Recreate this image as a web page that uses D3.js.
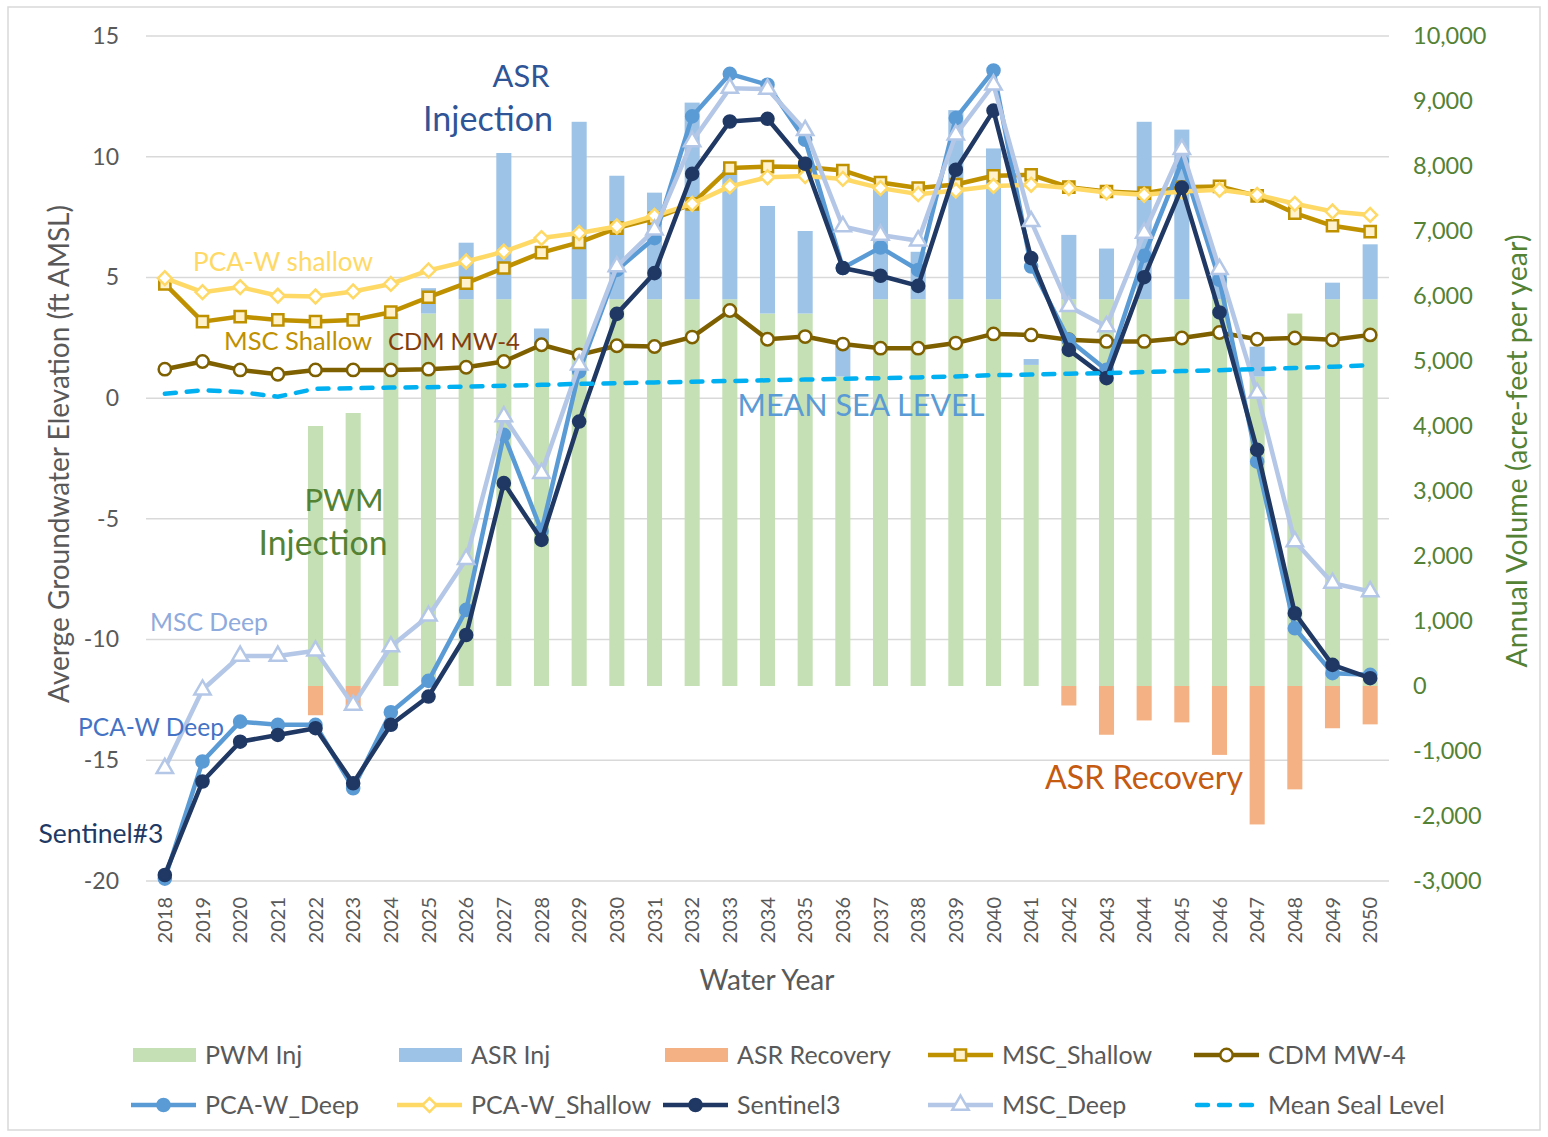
<!DOCTYPE html>
<html><head><meta charset="utf-8">
<script src="https://cdn.jsdelivr.net/npm/d3@7"></script>
<style>
body{margin:0;background:#fff}
text{font-family:Lato,'Open Sans',sans-serif}
</style>
</head><body>
<svg id="chart" width="1548" height="1137"></svg>
<script>
// ---------------- DATA ----------------
const years = [2018,2019,2020,2021,2022,2023,2024,2025,2026,2027,2028,2029,2030,2031,2032,2033,2034,2035,2036,2037,2038,2039,2040,2041,2042,2043,2044,2045,2046,2047,2048,2049,2050];

// bars (acre-feet per year, right axis)
const pwmInj      = [0,0,0,0,4000,4200,5730,5730,5950,5950,5200,5950,5950,5950,5950,5950,5730,5730,4760,5950,5950,5950,5950,4940,5950,5950,5950,5950,5950,4760,5730,5950,5950];
const asrInj      = [0,0,0,0,0,0,0,390,870,2250,300,2730,1900,1640,3025,1990,1655,1270,490,1700,730,2910,2320,90,990,780,2730,2610,380,460,0,255,845];
const asrRecovery = [0,0,0,0,-450,-350,0,0,0,0,0,0,0,0,0,0,0,0,0,0,0,0,0,0,-300,-750,-530,-560,-1060,-2130,-1590,-650,-590];

// lines (ft AMSL, left axis)
const mscShallow  = [4.73,3.17,3.38,3.24,3.17,3.24,3.56,4.18,4.76,5.39,6.03,6.45,7.04,7.45,8.05,9.53,9.59,9.57,9.43,8.93,8.70,8.85,9.21,9.25,8.74,8.56,8.49,8.74,8.77,8.38,7.66,7.14,6.90];
const cdmMW4      = [1.20,1.52,1.17,0.99,1.17,1.17,1.17,1.20,1.28,1.52,2.21,1.79,2.17,2.14,2.53,3.63,2.44,2.55,2.24,2.07,2.07,2.28,2.66,2.62,2.42,2.35,2.35,2.49,2.72,2.44,2.49,2.42,2.62];
const pcaWDeep    = [-19.9,-15.05,-13.40,-13.53,-13.53,-16.16,-13.01,-11.71,-8.77,-1.52,-5.5,1.1,5.31,6.63,11.67,13.43,12.98,10.7,5.39,6.24,5.31,11.6,13.57,5.45,2.42,1.17,5.9,9.8,4.9,-2.63,-9.53,-11.39,-11.46];
const pcaWShallow = [4.97,4.39,4.60,4.24,4.21,4.42,4.73,5.29,5.66,6.07,6.63,6.84,7.11,7.55,8.05,8.77,9.15,9.2,9.08,8.70,8.45,8.60,8.79,8.84,8.70,8.52,8.42,8.56,8.63,8.42,8.05,7.73,7.59];
const sentinel3   = [-19.75,-15.88,-14.23,-13.95,-13.67,-15.95,-13.53,-12.36,-9.81,-3.52,-5.87,-0.97,3.49,5.18,9.29,11.46,11.57,9.71,5.39,5.07,4.65,9.46,11.91,5.80,2.0,0.83,5.01,8.72,3.55,-2.14,-8.91,-11.05,-11.6];
const mscDeep     = [-15.33,-12.08,-10.68,-10.68,-10.46,-12.71,-10.29,-9.02,-6.67,-0.76,-3.11,1.38,5.45,6.97,10.63,12.84,12.8,11.09,7.11,6.76,6.52,10.91,12.98,7.32,3.80,2.97,6.84,10.31,5.34,0.21,-5.94,-7.66,-8.01];
const meanSeaLevel= [0.18,0.33,0.25,0.06,0.39,0.41,0.44,0.45,0.48,0.51,0.55,0.59,0.62,0.65,0.68,0.71,0.74,0.77,0.80,0.83,0.86,0.90,0.95,0.98,1.01,1.04,1.08,1.12,1.16,1.20,1.25,1.30,1.36];

const leftTicks  = [-20,-15,-10,-5,0,5,10,15];
const rightTicks = [-3000,-2000,-1000,0,1000,2000,3000,4000,5000,6000,7000,8000,9000,10000];

// ---------------- LAYOUT ----------------
const svg = d3.select('#chart');
const L = 146, R = 1389, T = 36, B = 881;
const grey = '#595959';

svg.append('rect').attr('x',8).attr('y',7).attr('width',1532).attr('height',1123)
   .attr('fill','#fff').attr('stroke','#d9d9d9').attr('stroke-width',1.5);

const x = d3.scaleBand().domain(years).range([L,R]).paddingInner(0.6).paddingOuter(0.3);
const xc = d => x(d) + x.bandwidth()/2;
const yL = d3.scaleLinear().domain([-20,15]).range([B,T]);
const yR = d3.scaleLinear().domain([-3000,10000]).range([B,T]);

// gridlines
svg.append('g').selectAll('line').data(leftTicks).join('line')
  .attr('x1',L).attr('x2',R).attr('y1',d=>yL(d)).attr('y2',d=>yL(d))
  .attr('stroke','#d9d9d9').attr('stroke-width',1.5);

// axes
const gl = svg.append('g').attr('transform',`translate(${L},0)`)
  .call(d3.axisLeft(yL).tickValues(leftTicks).tickSize(0).tickPadding(27).tickFormat(d=>String(d)));
gl.select('.domain').remove();
gl.selectAll('text').attr('fill',grey).style('font-size','23px').style('font-family','Lato');

const fmtR = d3.format(',');
const gr = svg.append('g').attr('transform',`translate(${R},0)`)
  .call(d3.axisRight(yR).tickValues(rightTicks).tickSize(0).tickPadding(24).tickFormat(d=>fmtR(d).replace('\u2212','-')));
gr.select('.domain').remove();
gr.selectAll('text').attr('fill','#548235').style('font-size','23.5px').style('font-family','Lato');

const gx = svg.append('g').attr('transform',`translate(0,${B})`)
  .call(d3.axisBottom(x).tickSize(0).tickFormat(d=>String(d)));
gx.select('.domain').remove();
gx.selectAll('text').attr('fill',grey).style('font-size','20px').style('font-family','Lato')
  .attr('transform','rotate(-90)').attr('text-anchor','end').attr('y',0).attr('x',-16).attr('dy','0.36em');

// ---------------- BARS ----------------
const bars = svg.append('g');
bars.selectAll('.pwm').data(years).join('rect')
  .attr('x',d=>x(d)).attr('width',x.bandwidth())
  .attr('y',(d,i)=>yR(pwmInj[i])).attr('height',(d,i)=>yR(0)-yR(pwmInj[i]))
  .attr('fill','#c5e0b4');
bars.selectAll('.asr').data(years).join('rect')
  .attr('x',d=>x(d)).attr('width',x.bandwidth())
  .attr('y',(d,i)=>yR(pwmInj[i]+asrInj[i])).attr('height',(d,i)=>yR(pwmInj[i])-yR(pwmInj[i]+asrInj[i]))
  .attr('fill','#9dc3e6');
bars.selectAll('.rec').data(years).join('rect')
  .attr('x',d=>x(d)).attr('width',x.bandwidth())
  .attr('y',yR(0)).attr('height',(d,i)=>yR(asrRecovery[i])-yR(0))
  .attr('fill','#f4b183');

// ---------------- LINES ----------------
const series = [
  {name:'MSC_Shallow', vals:mscShallow, color:'#bf9000', width:4.5, sym:d3.symbolSquare, size:125, fill:'#fff2cc', stroke:'#bf9000', rot:0},
  {name:'CDM MW-4', vals:cdmMW4, color:'#7f6000', width:4.5, sym:d3.symbolCircle, size:120, fill:'#ffffff', stroke:'#7f6000', rot:0},
  {name:'PCA-W_Deep', vals:pcaWDeep, color:'#5b9bd5', width:4.5, sym:d3.symbolCircle, size:115, fill:'#5b9bd5', stroke:'#5b9bd5', rot:0},
  {name:'PCA-W_Shallow', vals:pcaWShallow, color:'#ffd966', width:4.5, sym:d3.symbolSquare, size:95, fill:'#ffffff', stroke:'#ffd966', rot:45},
  {name:'Sentinel3', vals:sentinel3, color:'#1f3864', width:4.5, sym:d3.symbolCircle, size:115, fill:'#1f3864', stroke:'#1f3864', rot:0},
  {name:'MSC_Deep', vals:mscDeep, color:'#b4c7e7', width:4.5, sym:d3.symbolTriangle, size:115, fill:'#ffffff', stroke:'#b4c7e7', rot:0},
];
const line = d3.line().x(d=>xc(d.y)).y(d=>yL(d.v));
series.forEach(s=>{
  const pts = years.map((y,i)=>({y, v:s.vals[i]}));
  const g = svg.append('g');
  g.append('path').datum(pts).attr('d',line).attr('fill','none')
    .attr('stroke',s.color).attr('stroke-width',s.width).attr('stroke-linejoin','round');
  g.selectAll('path.m').data(pts).join('path').attr('class','m')
    .attr('d',d3.symbol().type(s.sym).size(s.size))
    .attr('transform',d=>`translate(${xc(d.y)},${yL(d.v)}) rotate(${s.rot})`)
    .attr('fill',s.fill).attr('stroke',s.stroke).attr('stroke-width',2.5);
});
// mean sea level
svg.append('path').datum(years.map((y,i)=>({y, v:meanSeaLevel[i]})))
  .attr('d',line).attr('fill','none').attr('stroke','#00b0f0').attr('stroke-width',4.5)
  .attr('stroke-dasharray','11,11').attr('stroke-linecap','round');

// ---------------- TEXT ----------------
function fit(t, w){
  const n = t.node(); const s = parseFloat(t.style('font-size'));
  const cw = n.getComputedTextLength(); t.style('font-size', (s*w/cw).toFixed(2)+'px');
}
const notes = [
  {t:'ASR', x:521, y:87, c:'#2f5597', w:57},
  {t:'Injection', x:488, y:131, c:'#2f5597', w:130},
  {t:'PWM', x:344, y:511, c:'#548235', w:79},
  {t:'Injection', x:323, y:555, c:'#548235', w:129},
  {t:'MEAN SEA LEVEL', x:861, y:416, c:'#5b9bd5', w:247},
  {t:'ASR Recovery', x:1144, y:789, c:'#c55a11', w:198},
  {t:'PCA-W shallow', x:283, y:271, c:'#ffd966', w:180},
  {t:'MSC Shallow', x:298, y:350, c:'#bf9000', w:148},
  {t:'CDM MW-4', x:454, y:350, c:'#843c0c', w:132},
  {t:'MSC Deep', x:209, y:631, c:'#8faadc', w:118},
  {t:'PCA-W Deep', x:151, y:736, c:'#4472c4', w:146},
  {t:'Sentinel#3', x:101, y:843, c:'#203864', w:125},
];
notes.forEach(n=>{
  const t = svg.append('text').attr('x',n.x).attr('y',n.y).attr('text-anchor','middle')
    .attr('fill',n.c).style('font-size','24px').text(n.t);
  fit(t, n.w);
});

// axis titles
const tl = svg.append('text').attr('transform','translate(69,454) rotate(-90)').attr('text-anchor','middle')
  .attr('fill',grey).style('font-size','24px').text('Averge Groundwater Elevation (ft AMSL)');
fit(tl, 498);
const tr = svg.append('text').attr('transform','translate(1527,451) rotate(-90)').attr('text-anchor','middle')
  .attr('fill','#548235').style('font-size','24px').text('Annual Volume (acre-feet per year)');
fit(tr, 433);
const tx = svg.append('text').attr('x',767).attr('y',990).attr('text-anchor','middle')
  .attr('fill',grey).style('font-size','24px').text('Water Year');
fit(tx, 135);

// ---------------- LEGEND ----------------
const legendItems = [
  {name:'PWM Inj', kind:'bar', color:'#c5e0b4'},
  {name:'ASR Inj', kind:'bar', color:'#9dc3e6'},
  {name:'ASR Recovery', kind:'bar', color:'#f4b183'},
  {name:'MSC_Shallow', kind:'line', s:series[0]},
  {name:'CDM MW-4', kind:'line', s:series[1]},
  {name:'PCA-W_Deep', kind:'line', s:series[2]},
  {name:'PCA-W_Shallow', kind:'line', s:series[3]},
  {name:'Sentinel3', kind:'line', s:series[4]},
  {name:'MSC_Deep', kind:'line', s:series[5]},
  {name:'Mean Seal Level', kind:'dash', color:'#00b0f0'},
];
const colX = [131,397,663,928,1194], rowY = [1055,1105];
legendItems.forEach((it,i)=>{
  const cx = colX[i%5], cy = rowY[Math.floor(i/5)];
  const g = svg.append('g');
  if(it.kind==='bar'){
    g.append('rect').attr('x',cx+2).attr('y',cy-7).attr('width',63).attr('height',14).attr('fill',it.color);
  } else if(it.kind==='line'){
    g.append('line').attr('x1',cx).attr('x2',cx+65).attr('y1',cy).attr('y2',cy)
      .attr('stroke',it.s.color).attr('stroke-width',it.s.width);
    g.append('path').attr('d',d3.symbol().type(it.s.sym).size(it.s.size))
      .attr('transform',`translate(${cx+32.5},${cy}) rotate(${it.s.rot})`)
      .attr('fill',it.s.fill).attr('stroke',it.s.stroke).attr('stroke-width',2.5);
  } else {
    g.append('line').attr('x1',cx+3).attr('x2',cx+63).attr('y1',cy).attr('y2',cy)
      .attr('stroke',it.color).attr('stroke-width',4.5).attr('stroke-dasharray','11,11').attr('stroke-linecap','round');
  }
  g.append('text').attr('x',cx+74).attr('y',cy).attr('dy','0.36em')
    .attr('fill',grey).style('font-size','25px').text(it.name);
});
</script>
</body></html>
